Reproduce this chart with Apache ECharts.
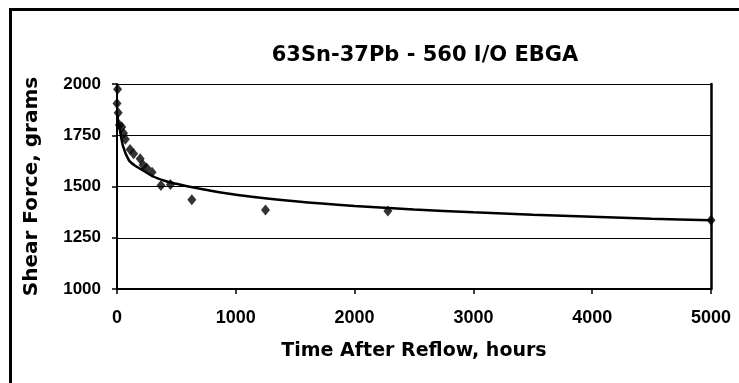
<!DOCTYPE html>
<html>
<head>
<meta charset="utf-8">
<script src="https://cdn.jsdelivr.net/npm/echarts@6/dist/echarts.min.js"></script>
<style>
  html, body { margin: 0; padding: 0; background: #fff; }
  #chart { width: 739px; height: 383px; }
</style>
</head>
<body>
<div id="chart"></div>
<script>
// Shear force measurements vs. time after reflow (hours, grams)
const sampleHours = [0, 5, 10, 20, 40, 55, 70, 110, 140, 195, 220, 250, 295, 370, 450, 630, 1250, 2280, 5000];
const shearGrams  = [1905, 1975, 1860, 1800, 1790, 1760, 1730, 1680, 1660, 1635, 1605, 1590, 1570, 1505, 1510, 1435, 1385, 1380, 1335];

// Fitted trend curve, read as points along its path
const trendHours = [5, 10, 20, 50, 100, 150, 200, 300, 400, 500, 600, 800, 1000, 1500, 2000, 2500, 3000, 3500, 4000, 4500, 5000];
const trendGrams = [1850, 1815, 1790, 1698, 1628, 1602, 1585, 1550, 1528, 1513, 1500, 1478, 1460, 1428, 1405, 1388, 1374, 1362, 1352, 1343, 1335];

// Axis tick settings
const xTicks = { min: 0, max: 5000, step: 1000 };
const yTicks = { min: 1000, max: 2000, step: 250 };

const labelFont = 'Liberation Sans, Arial, sans-serif';
const nameFont = 'DejaVu Sans, Verdana, sans-serif';

const chart = echarts.init(document.getElementById('chart'), null, { renderer: 'canvas' });

chart.setOption({
  backgroundColor: '#ffffff',
  animation: false,
  title: {
    text: '63Sn-37Pb - 560 I/O EBGA',
    left: 420, top: 40, textAlign: 'center',
    textStyle: { fontFamily: nameFont, fontWeight: 'bold', fontSize: 21, color: '#000' }
  },
  graphic: [{
    type: 'rect',
    shape: { x: 10.5, y: 9.5, width: 2000, height: 2000 },
    style: { fill: 'none', stroke: '#000', lineWidth: 3 },
    silent: true
  }],
  grid: { left: 117, right: 28, top: 84, bottom: 94 },
  xAxis: {
    type: 'value',
    min: xTicks.min, max: xTicks.max, interval: xTicks.step,
    name: 'Time After Reflow, hours',
    nameLocation: 'middle', nameGap: 53,
    nameTextStyle: { fontFamily: nameFont, fontWeight: 'bold', fontSize: 19, color: '#000' },
    axisLine: { lineStyle: { color: '#000', width: 2 } },
    axisTick: { show: true, inside: false, length: 5, lineStyle: { color: '#000', width: 1.5 } },
    axisLabel: { fontFamily: labelFont, fontWeight: 'bold', fontSize: 18, color: '#000', margin: 20,
                 formatter: v => String(v) },
    splitLine: { show: false }
  },
  yAxis: [{
    type: 'value',
    min: yTicks.min, max: yTicks.max, interval: yTicks.step,
    name: 'Shear Force, grams',
    nameLocation: 'middle', nameGap: 75,
    nameTextStyle: { fontFamily: nameFont, fontWeight: 'bold', fontSize: 20, color: '#000' },
    axisLine: { show: true, lineStyle: { color: '#000', width: 2 } },
    axisTick: { show: true, inside: false, length: 5, lineStyle: { color: '#000', width: 1.5 } },
    axisLabel: { fontFamily: labelFont, fontWeight: 'bold', fontSize: 17, color: '#000', margin: 16,
                 formatter: v => String(v) },
    splitLine: { show: true, lineStyle: { color: '#000', width: 1 } }
  }, {
    type: 'value',
    position: 'right',
    min: yTicks.min, max: yTicks.max, interval: yTicks.step,
    axisLine: { show: true, lineStyle: { color: '#000', width: 2.5 } },
    axisTick: { show: false },
    axisLabel: { show: false },
    splitLine: { show: false }
  }],
  series: [{
    type: 'line',
    data: trendHours.map((t, i) => [t, trendGrams[i]]),
    smooth: 0.25,
    symbol: 'none',
    lineStyle: { color: '#000', width: 2.5 },
    z: 3
  }, {
    type: 'scatter',
    data: sampleHours.map((t, i) => [t, shearGrams[i]]),
    symbol: 'diamond',
    symbolSize: [9, 11],
    itemStyle: { color: '#000' },
    z: 4
  }]
});
</script>
</body>
</html>
